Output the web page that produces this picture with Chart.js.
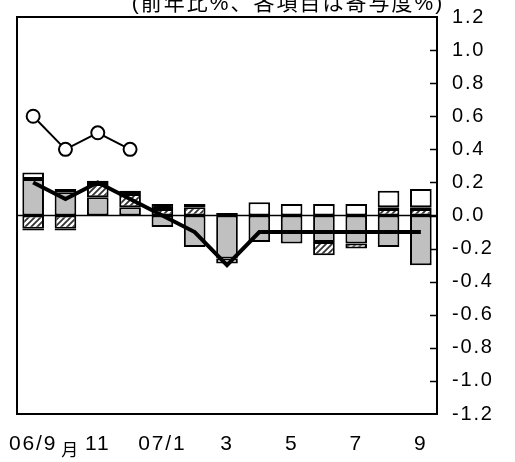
<!DOCTYPE html>
<html><head><meta charset="utf-8">
<script src="https://cdn.jsdelivr.net/npm/chart.js@4/dist/chart.umd.min.js"></script>
<style>html,body{margin:0;padding:0;background:#fff}#wrap{width:515px;height:462px}</style>
</head><body><div id="wrap"><canvas id="c" width="515" height="462"></canvas></div>
<script>
// ---- data ----
const months = ["06/9","06/10","06/11","06/12","07/1","07/2","07/3","07/4","07/5","07/6","07/7","07/8","07/9"];
const xTickLabels = ["06/9","","11","","07/1","","3","","5","","7","","9"];
const monthSuffix = "月";
const titleText = "(前年比%、各項目は寄与度%)";
const yTickValues = [-1.2,-1.0,-0.8,-0.6,-0.4,-0.2,0.0,0.2,0.4,0.6,0.8,1.0,1.2];
const graySeries    = [0.22, 0.14, 0.11, 0.05, -0.07, -0.19, -0.26, -0.16, -0.17, -0.16, -0.17, -0.19, -0.30];
const hatchedSeries = [-0.08, -0.08, 0.08, 0.08, 0.04, 0.05, 0, 0, 0, -0.08, -0.03, 0.04, 0.04];
const blackSeries   = [-0.01, -0.01, 0, 0, 0.03, 0, 0.015, 0, 0, 0, 0, 0.01, 0.01];
const whiteSeries   = [0.04, 0.02, 0.02, 0.02, 0, 0.02, -0.03, 0.08, 0.07, 0.07, 0.07, 0.10, 0.11];
const totalSeries   = [0.2, 0.1, 0.2, 0.1, 0.0, -0.1, -0.3, -0.1, -0.1, -0.1, -0.1, -0.1, -0.1];
const circleSeries  = [0.6, 0.4, 0.5, 0.4, null, null, null, null, null, null, null, null, null];

const FONT = "'Liberation Sans', 'Noto Sans CJK JP', sans-serif";
const canvas = document.getElementById('c');
const ctx0 = canvas.getContext('2d');

function makeHatch(){
  const s = 6;
  const c = document.createElement('canvas'); c.width = s; c.height = s;
  const g = c.getContext('2d');
  g.fillStyle = '#fff'; g.fillRect(0,0,s,s);
  g.strokeStyle = '#333'; g.lineWidth = 1.8;
  g.beginPath();
  g.moveTo(-1, s+1); g.lineTo(s+1, -1);
  g.moveTo(-1, 1); g.lineTo(1, -1);
  g.moveTo(s-1, s+1); g.lineTo(s+1, s-1);
  g.stroke();
  return ctx0.createPattern(c, 'repeat');
}
const hatch = makeHatch();

const barCommon = {type:'bar', borderColor:'#000', borderWidth:2, borderSkipped:false, stack:'bars', order:1, barPercentage:0.67, categoryPercentage:1.0};

const deco = {
  id:'deco',
  beforeDraw(chart){ chart.ctx.letterSpacing = '1.8px'; },
  afterDatasetDraw(chart, args){
    if (args.index !== 0) return;
    const {ctx, chartArea:a, scales:{y}} = chart;
    const y0 = y.getPixelForValue(0);
    ctx.save(); ctx.strokeStyle='#000'; ctx.lineWidth=1.5;
    ctx.beginPath(); ctx.moveTo(a.left, y0); ctx.lineTo(a.right, y0); ctx.stroke();
    ctx.restore();
  },
  afterDraw(chart){
    const {ctx, chartArea:a, scales:{x, y}} = chart;
    ctx.save();
    ctx.strokeStyle='#000'; ctx.lineWidth=2;
    ctx.strokeRect(a.left, a.top, a.right-a.left, a.bottom-a.top);
    ctx.lineWidth=1.5;
    ctx.beginPath();
    yTickValues.forEach(v => {
      if (Math.abs(v) > 1.15) return;
      const py = Math.round(y.getPixelForValue(v)) + 0.5;
      ctx.moveTo(a.right-7, py); ctx.lineTo(a.right, py);
    });
    ctx.stroke();
    ctx.fillStyle='#000';
    ctx.letterSpacing='2px';
    ctx.font = "21px " + FONT;
    ctx.textAlign='center'; ctx.textBaseline='alphabetic';
    ctx.fillText(titleText, 288, 10);
    ctx.font = "17px 'Noto Sans CJK JP', sans-serif";
    ctx.letterSpacing='0px';
    ctx.textAlign='left'; ctx.textBaseline='top';
    ctx.fillText(monthSuffix, x.getPixelForValue(0) + 28, 441);
    ctx.restore();
  }
};

new Chart(canvas, {
  data:{
    labels: months,
    datasets:[
      {...barCommon, label:'gray', data: graySeries, backgroundColor:'#c0c0c0'},
      {...barCommon, label:'hatched', data: hatchedSeries, backgroundColor: hatch},
      {...barCommon, label:'black', data: blackSeries, backgroundColor:'#000'},
      {...barCommon, label:'white', data: whiteSeries, backgroundColor:'#fff'},
      {type:'line', label:'total', data: totalSeries, stack:'total', order:0, borderColor:'#000', borderWidth:4, pointRadius:0, tension:0, borderJoinStyle:'miter', fill:false},
      {type:'line', label:'circle', data: circleSeries, stack:'circle', order:0, borderColor:'#000', borderWidth:2, pointRadius:6.5, pointBorderWidth:2, pointBackgroundColor:'#fff', pointBorderColor:'#000', tension:0, fill:false, spanGaps:false}
    ]
  },
  options:{
    responsive:false, animation:false, devicePixelRatio:1,
    layout:{padding:{left:17, top:17, right:0, bottom:0}},
    plugins:{legend:{display:false}, tooltip:{enabled:false}, title:{display:false}},
    scales:{
      x:{
        stacked:true, offset:true,
        grid:{display:false, drawTicks:false}, border:{display:false},
        ticks:{autoSkip:false, maxRotation:0, padding:18, color:'#000', font:{family:FONT, size:21},
          callback:(v,i)=>xTickLabels[i]},
        afterFit(s){ s.height = 48; s.paddingLeft = 0; s.paddingRight = 0; }
      },
      y:{
        position:'right', stacked:true, min:-1.2, max:1.2,
        grid:{display:false, drawTicks:false}, border:{display:false},
        afterBuildTicks(s){ s.ticks = yTickValues.map(v=>({value:v})); },
        ticks:{padding:15, color:'#000', font:{family:FONT, size:20},
          callback:(v)=> (Math.abs(v)<1e-9?0:v).toFixed(1)},
        afterFit(s){ s.width = 78; s.paddingTop = 0; s.paddingBottom = 0; }
      }
    }
  },
  plugins:[deco]
});
</script></body></html>
